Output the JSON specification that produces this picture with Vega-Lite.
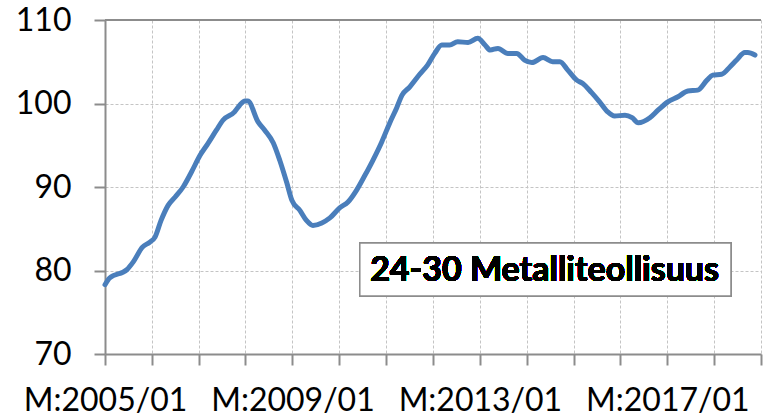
{
  "$schema": "https://vega.github.io/schema/vega-lite/v6.json",
  "width": 656,
  "height": 334,
  "autosize": {"type": "none"},
  "padding": {"left": 105, "top": 20, "right": 5, "bottom": 65},
  "background": "white",
  "config": {
    "view": {"stroke": null},
    "axis": {"labelFont": "Lato", "labelFontSize": 32, "labelColor": "#000000", "domainColor": "#8c8c8c", "domainWidth": 2, "tickColor": "#8c8c8c", "tickWidth": 2, "tickSize": 11, "gridColor": "#c4c4c4", "gridWidth": 1, "gridDash": [3, 2], "title": null}
  },
  "data": {
    "values": [
      {"date": "2005-01-01", "value": 78.3},
      {"date": "2005-02-06", "value": 79.1},
      {"date": "2005-06-21", "value": 80.1},
      {"date": "2005-08-08", "value": 81.0},
      {"date": "2005-10-20", "value": 82.8},
      {"date": "2005-12-17", "value": 83.4},
      {"date": "2006-01-26", "value": 84.0},
      {"date": "2006-03-14", "value": 86.0},
      {"date": "2006-05-08", "value": 87.8},
      {"date": "2006-07-02", "value": 88.8},
      {"date": "2006-09-02", "value": 90.0},
      {"date": "2006-11-06", "value": 91.8},
      {"date": "2007-01-12", "value": 93.8},
      {"date": "2007-03-14", "value": 95.2},
      {"date": "2007-05-19", "value": 96.8},
      {"date": "2007-07-09", "value": 98.0},
      {"date": "2007-10-08", "value": 99.0},
      {"date": "2007-11-17", "value": 99.8},
      {"date": "2007-12-28", "value": 100.3},
      {"date": "2008-01-19", "value": 100.3},
      {"date": "2008-04-08", "value": 97.8},
      {"date": "2008-05-30", "value": 96.8},
      {"date": "2008-08-04", "value": 95.3},
      {"date": "2008-09-24", "value": 93.2},
      {"date": "2008-11-18", "value": 90.5},
      {"date": "2008-12-28", "value": 88.4},
      {"date": "2009-02-28", "value": 87.2},
      {"date": "2009-04-20", "value": 86.0},
      {"date": "2009-06-10", "value": 85.4},
      {"date": "2009-08-18", "value": 85.7},
      {"date": "2009-10-20", "value": 86.3},
      {"date": "2010-01-04", "value": 87.5},
      {"date": "2010-03-10", "value": 88.2},
      {"date": "2010-05-15", "value": 89.6},
      {"date": "2010-07-20", "value": 91.4},
      {"date": "2010-09-20", "value": 93.2},
      {"date": "2010-11-28", "value": 95.4},
      {"date": "2011-01-30", "value": 97.7},
      {"date": "2011-03-25", "value": 99.5},
      {"date": "2011-05-05", "value": 101.0},
      {"date": "2011-07-05", "value": 102.0},
      {"date": "2011-09-20", "value": 103.5},
      {"date": "2011-11-20", "value": 104.6},
      {"date": "2012-01-15", "value": 106.0},
      {"date": "2012-03-10", "value": 107.0},
      {"date": "2012-05-10", "value": 107.0},
      {"date": "2012-07-12", "value": 107.4},
      {"date": "2012-10-01", "value": 107.3},
      {"date": "2012-12-15", "value": 107.8},
      {"date": "2013-02-10", "value": 107.0},
      {"date": "2013-03-22", "value": 106.4},
      {"date": "2013-05-22", "value": 106.6},
      {"date": "2013-08-07", "value": 106.0},
      {"date": "2013-10-15", "value": 106.0},
      {"date": "2013-12-15", "value": 105.2},
      {"date": "2014-02-10", "value": 104.9},
      {"date": "2014-05-08", "value": 105.5},
      {"date": "2014-07-22", "value": 105.0},
      {"date": "2014-09-17", "value": 105.0},
      {"date": "2014-11-17", "value": 104.0},
      {"date": "2015-01-26", "value": 102.8},
      {"date": "2015-03-14", "value": 102.4},
      {"date": "2015-05-22", "value": 101.3},
      {"date": "2015-07-23", "value": 100.2},
      {"date": "2015-09-24", "value": 99.0},
      {"date": "2015-11-17", "value": 98.5},
      {"date": "2016-02-06", "value": 98.6},
      {"date": "2016-04-01", "value": 98.3},
      {"date": "2016-05-19", "value": 97.7},
      {"date": "2016-08-18", "value": 98.3},
      {"date": "2016-10-20", "value": 99.2},
      {"date": "2017-01-05", "value": 100.2},
      {"date": "2017-03-25", "value": 100.8},
      {"date": "2017-06-10", "value": 101.5},
      {"date": "2017-08-25", "value": 101.6},
      {"date": "2017-11-06", "value": 102.8},
      {"date": "2017-12-20", "value": 103.4},
      {"date": "2018-02-28", "value": 103.5},
      {"date": "2018-05-05", "value": 104.4},
      {"date": "2018-06-25", "value": 105.2},
      {"date": "2018-08-28", "value": 106.1},
      {"date": "2018-09-20", "value": 106.1},
      {"date": "2018-11-15", "value": 105.8}
    ]
  },
  "layer": [
    {
      "mark": {"type": "line", "color": "#4a7ebb", "strokeWidth": 5, "strokeJoin": "round", "strokeCap": "round", "interpolate": "monotone"},
      "encoding": {
        "x": {
          "field": "date", "type": "temporal",
          "scale": {"type": "utc", "domain": [{"year": 2005, "month": 1, "date": 1, "utc": true}, {"year": 2019, "month": 1, "date": 1, "utc": true}], "nice": false},
          "axis": {
            "tickCount": {"interval": "year", "step": 1},
            "labelExpr": "(utcyear(datum.value) - 2005) % 4 == 0 ? 'M:' + utcFormat(datum.value, '%Y/%m') : ''",
            "labelPadding": 20,
            "labelOverlap": false,
            "labelFlush": false,
            "grid": true
          }
        },
        "y": {
          "field": "value", "type": "quantitative",
          "scale": {"domain": [70, 110], "nice": false, "zero": false},
          "axis": {
            "values": [70, 80, 90, 100, 110],
            "labelPadding": 23
          }
        }
      }
    },
    {
      "mark": {"type": "rule", "color": "#8c8c8c", "strokeWidth": 2},
      "encoding": {"y": {"datum": 110, "type": "quantitative"}}
    },
    {
      "mark": {"type": "rect", "fill": "white", "stroke": "#8c8c8c", "strokeWidth": 1.5},
      "encoding": {
        "x": {"datum": {"year": 2010, "month": 6, "date": 10, "utc": true}, "type": "temporal"},
        "x2": {"datum": {"year": 2018, "month": 5, "date": 12, "utc": true}},
        "y": {"datum": 83.3, "type": "quantitative"},
        "y2": {"datum": 76.95}
      }
    },
    {
      "mark": {"type": "text", "text": "24-30 Metalliteollisuus", "font": "Lato", "fontWeight": "bold", "fontSize": 34, "fill": "#000000", "align": "center", "baseline": "middle"},
      "encoding": {
        "x": {"datum": {"year": 2014, "month": 5, "date": 20, "utc": true}, "type": "temporal"},
        "y": {"datum": 80.0, "type": "quantitative"}
      }
    }
  ]
}
